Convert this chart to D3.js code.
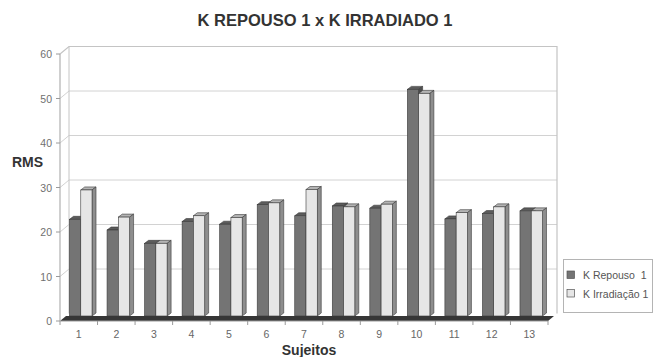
<!DOCTYPE html>
<html>
<head>
<meta charset="utf-8">
<script src="https://cdn.jsdelivr.net/npm/d3@7"></script>
<style>
  body { margin: 0; background: #fff; }
  text { font-family: "Liberation Sans", Arial, sans-serif; }
</style>
</head>
<body>
<div id="chart"></div>
<script>
const categories = ["1", "2", "3", "4", "5", "6", "7", "8", "9", "10", "11", "12", "13"];
const seriesNames = ["K Repouso  1", "K Irradiação 1"];
const repouso = [22.4, 20.0, 17.0, 21.9, 21.3, 25.7, 23.2, 25.4, 24.9, 51.6, 22.5, 23.7, 24.3];
const irradiacao = [29.0, 22.9, 17.0, 23.2, 22.8, 26.1, 29.1, 25.2, 25.8, 50.7, 23.9, 25.2, 24.3];
const yTicks = [0, 10, 20, 30, 40, 50, 60];

const width = 658;
const height = 357;

// depth of the walls and of the bars
const wallDx = 9, wallDy = -7.5;
const barDx = 4, barDy = -3;
const barShift = 2;
const floorTop = 316;

const svg = d3.select("#chart").append("svg").attr("width", width).attr("height", height);

const x = d3.scaleBand().domain(categories).range([60, 548]);
const y = d3.scaleLinear().domain([0, 60]).range([321, 54]);
const xs = d3.scaleBand().domain(seriesNames).range([0, x.bandwidth() * 0.6]);

const colors = {
    "K Repouso  1": {front: "#747474", side: "#4e4e4e", top: "#5c5c5c"},
    "K Irradiação 1": {front: "#e6e6e6", side: "#8e8e8e", top: "#b4b4b4"}
};

// walls
const wallColor = "#c4c4c4";
const gridColor = "#d2d2d2";
const x0 = x.range()[0], x1 = x.range()[1];

yTicks.filter((d) => d > 0 && d < 60).forEach(function(v){
    svg.append("line")
        .attr("x1", x0).attr("y1", y(v))
        .attr("x2", x0 + wallDx).attr("y2", y(v) + wallDy)
        .attr("stroke", gridColor);
    svg.append("line")
        .attr("x1", x0 + wallDx).attr("y1", y(v) + wallDy)
        .attr("x2", x1 + wallDx).attr("y2", y(v) + wallDy)
        .attr("stroke", gridColor);
});

svg.append("path")
    .attr("d", "M" + x0 + "," + y(60) + "L" + (x0 + wallDx) + "," + (y(60) + wallDy) +
        "L" + (x1 + wallDx) + "," + (y(60) + wallDy) + "L" + (x1 + wallDx) + "," + (y(0) + wallDy))
    .attr("fill", "none")
    .attr("stroke", wallColor)
    .attr("stroke-width", 1.2);
svg.append("line")
    .attr("x1", x0 + wallDx).attr("y1", y(60) + wallDy)
    .attr("x2", x0 + wallDx).attr("y2", y(0) + wallDy)
    .attr("stroke", wallColor);

// floor
svg.append("path")
    .attr("d", "M" + x0 + "," + y(0) + "L" + x1 + "," + y(0) + "L" + (x1 + 6) + "," + floorTop +
        "L" + (x0 + 6) + "," + floorTop + "Z")
    .attr("fill", "#363636");

// bars
function drawBar(g, left, w, top, bottom, c){
    g.append("path")
        .attr("d", "M" + left + "," + top + "L" + (left + barDx) + "," + (top + barDy) +
            "L" + (left + w + barDx) + "," + (top + barDy) + "L" + (left + w) + "," + top + "Z")
        .attr("fill", c.top).attr("stroke", "#3a3a3a").attr("stroke-width", 0.6);
    g.append("path")
        .attr("d", "M" + (left + w) + "," + top + "L" + (left + w + barDx) + "," + (top + barDy) +
            "L" + (left + w + barDx) + "," + (bottom + barDy) + "L" + (left + w) + "," + bottom + "Z")
        .attr("fill", c.side).attr("stroke", "#3a3a3a").attr("stroke-width", 0.6);
    g.append("rect")
        .attr("x", left).attr("y", top)
        .attr("width", w).attr("height", bottom - top)
        .attr("fill", c.front).attr("stroke", "#3a3a3a").attr("stroke-width", 0.6);
}

const bars = svg.append("g");
categories.forEach(function(cat, i){
    const vals = [repouso[i], irradiacao[i]];
    seriesNames.forEach(function(s, j){
        const left = x(cat) + (x.bandwidth() - xs.step() * 2) / 2 + barShift + xs(s);
        drawBar(bars, left, xs.bandwidth(), y(vals[j]) - barShift, floorTop, colors[s]);
    });
});

// axes
svg.append("line")
    .attr("x1", x0).attr("y1", y(0)).attr("x2", x1).attr("y2", y(0))
    .attr("stroke", "#9a9a9a");
svg.append("line")
    .attr("x1", x0).attr("y1", y(0)).attr("x2", x0).attr("y2", y(60))
    .attr("stroke", "#b0b0b0").attr("stroke-width", 1.2);

svg.selectAll(".xtick")
    .data(categories.concat(["end"]))
    .enter()
    .append("line")
    .attr("x1", (d, i) => x0 + i * x.step())
    .attr("x2", (d, i) => x0 + i * x.step())
    .attr("y1", y(0)).attr("y2", y(0) + 4)
    .attr("stroke", "#9a9a9a");

svg.selectAll(".xlabel")
    .data(categories)
    .enter()
    .append("text")
    .attr("x", (d) => x(d) + x.bandwidth() / 2)
    .attr("y", 338)
    .attr("text-anchor", "middle")
    .attr("font-size", 10.5)
    .attr("fill", "#666")
    .text((d) => d);

svg.selectAll(".ytick")
    .data(yTicks)
    .enter()
    .append("line")
    .attr("x1", x0 - 4).attr("x2", x0)
    .attr("y1", (d) => y(d)).attr("y2", (d) => y(d))
    .attr("stroke", "#9a9a9a");

svg.selectAll(".ylabel")
    .data(yTicks)
    .enter()
    .append("text")
    .attr("x", 52)
    .attr("y", (d) => y(d) + 4)
    .attr("text-anchor", "end")
    .attr("font-size", 10.5)
    .attr("fill", "#707070")
    .text((d) => d);

// titles
svg.append("text")
    .attr("x", 325).attr("y", 25.5)
    .attr("text-anchor", "middle")
    .attr("font-size", 16.5)
    .attr("font-weight", "bold")
    .attr("fill", "#333")
    .text("K REPOUSO 1 x K IRRADIADO 1");

svg.append("text")
    .attr("x", 12).attr("y", 166.5)
    .attr("font-size", 14)
    .attr("font-weight", "bold")
    .attr("fill", "#333")
    .text("RMS");

svg.append("text")
    .attr("x", 309).attr("y", 355)
    .attr("text-anchor", "middle")
    .attr("font-size", 14)
    .attr("font-weight", "bold")
    .attr("fill", "#333")
    .text("Sujeitos");

// legend
const legend = svg.append("g");
legend.append("rect")
    .attr("x", 563.5).attr("y", 259.5)
    .attr("width", 89).attr("height", 53)
    .attr("fill", "#fff").attr("stroke", "#b4b4b4");

seriesNames.forEach(function(s, i){
    legend.append("rect")
        .attr("x", 567).attr("y", 271 + i * 18.5)
        .attr("width", 7.5).attr("height", 7.5)
        .attr("fill", colors[s].front).attr("stroke", "#555").attr("stroke-width", 0.7);
    legend.append("text")
        .attr("x", 583).attr("y", 279 + i * 18.5)
        .attr("font-size", 10.5)
        .attr("fill", "#555")
        .style("white-space", "pre")
        .text(s);
});
</script>
</body>
</html>
